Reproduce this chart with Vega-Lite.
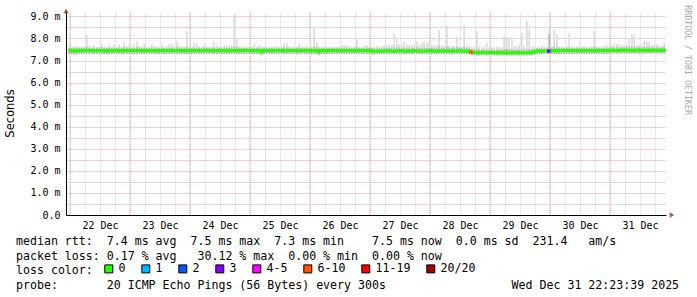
{
"$schema":"https://vega.github.io/schema/vega-lite/v6.json",
"width":600,"height":203,
"autosize":{"type":"none"},
"padding":{"left":66,"top":12,"right":31,"bottom":82},
"background":"white",
"config":{"view":{"stroke":null},"font":"DejaVu Sans Mono"},
"title":{"text":["median rtt:\u00a0\u00a07.4 ms avg\u00a0\u00a07.5 ms max\u00a0\u00a07.3 ms min\u00a0\u00a0\u00a0\u00a07.5 ms now\u00a0\u00a00.0 ms sd\u00a0\u00a0231.4\u00a0\u00a0\u00a0am/s","packet loss: 0.17 % avg\u00a0\u00a0\u00a030.12 % max\u00a0\u00a00.00 % min\u00a0\u00a00.00 % now","loss color:","probe:\u00a0\u00a0\u00a0\u00a0\u00a0\u00a0\u00a020 ICMP Echo Pings (56 Bytes) every 300s\u00a0\u00a0\u00a0\u00a0\u00a0\u00a0\u00a0\u00a0\u00a0\u00a0\u00a0\u00a0\u00a0\u00a0\u00a0\u00a0\u00a0\u00a0Wed Dec 31 22:23:39 2025"],
"orient":"bottom","anchor":"start","frame":"group","dx":-50,"dy":-45,"offset":6,"font":"DejaVu Sans Mono","fontSize":11.6,"fontWeight":"normal","color":"#000000","lineHeight":14.5},
"datasets":{
"s":[
{"t":"2025-12-21 23:30","lo":7.3,"up":7.58,"mx":7.75,"md":7.45},
{"t":"2025-12-22 00:30","lo":7.3,"up":7.58,"mx":7.62,"md":7.45},
{"t":"2025-12-22 01:30","lo":7.27,"up":7.58,"mx":7.66,"md":7.42},
{"t":"2025-12-22 02:30","lo":7.26,"up":7.58,"mx":7.64,"md":7.44},
{"t":"2025-12-22 03:30","lo":7.3,"up":7.58,"mx":7.6,"md":7.46},
{"t":"2025-12-22 04:30","lo":7.3,"up":7.58,"mx":7.62,"md":7.45},
{"t":"2025-12-22 05:30","lo":7.3,"up":7.58,"mx":7.65,"md":7.44},
{"t":"2025-12-22 06:30","lo":7.3,"up":7.62,"mx":8.15,"md":7.45},
{"t":"2025-12-22 07:30","lo":7.3,"up":7.58,"mx":7.64,"md":7.46},
{"t":"2025-12-22 08:30","lo":7.3,"up":7.58,"mx":7.6,"md":7.45},
{"t":"2025-12-22 09:30","lo":7.3,"up":7.58,"mx":7.7,"md":7.44},
{"t":"2025-12-22 10:30","lo":7.3,"up":7.58,"mx":7.62,"md":7.45},
{"t":"2025-12-22 11:30","lo":7.3,"up":7.58,"mx":7.6,"md":7.46},
{"t":"2025-12-22 12:30","lo":7.3,"up":7.6,"mx":7.75,"md":7.45},
{"t":"2025-12-22 13:30","lo":7.3,"up":7.58,"mx":7.62,"md":7.44},
{"t":"2025-12-22 14:30","lo":7.27,"up":7.58,"mx":7.6,"md":7.42},
{"t":"2025-12-22 15:30","lo":7.3,"up":7.58,"mx":7.75,"md":7.45},
{"t":"2025-12-22 16:30","lo":7.3,"up":7.58,"mx":7.62,"md":7.46},
{"t":"2025-12-22 17:30","lo":7.3,"up":7.58,"mx":7.7,"md":7.45},
{"t":"2025-12-22 18:30","lo":7.3,"up":7.58,"mx":7.6,"md":7.44},
{"t":"2025-12-22 19:30","lo":7.3,"up":7.58,"mx":7.75,"md":7.45},
{"t":"2025-12-22 20:30","lo":7.28,"up":7.58,"mx":7.62,"md":7.46},
{"t":"2025-12-22 21:30","lo":7.3,"up":7.6,"mx":7.82,"md":7.44},
{"t":"2025-12-22 22:30","lo":7.3,"up":7.58,"mx":7.62,"md":7.45},
{"t":"2025-12-22 23:30","lo":7.3,"up":7.58,"mx":7.75,"md":7.45},
{"t":"2025-12-23 00:30","lo":7.3,"up":7.58,"mx":7.62,"md":7.45},
{"t":"2025-12-23 01:30","lo":7.3,"up":7.58,"mx":7.75,"md":7.44},
{"t":"2025-12-23 02:30","lo":7.3,"up":7.6,"mx":7.88,"md":7.45},
{"t":"2025-12-23 03:30","lo":7.3,"up":7.58,"mx":7.64,"md":7.46},
{"t":"2025-12-23 04:30","lo":7.3,"up":7.58,"mx":7.62,"md":7.45},
{"t":"2025-12-23 05:30","lo":7.3,"up":7.58,"mx":7.75,"md":7.44},
{"t":"2025-12-23 06:30","lo":7.3,"up":7.58,"mx":7.6,"md":7.45},
{"t":"2025-12-23 07:30","lo":7.3,"up":7.58,"mx":7.62,"md":7.45},
{"t":"2025-12-23 08:30","lo":7.3,"up":7.58,"mx":7.75,"md":7.46},
{"t":"2025-12-23 09:30","lo":7.3,"up":7.58,"mx":7.64,"md":7.44},
{"t":"2025-12-23 10:30","lo":7.3,"up":7.58,"mx":7.62,"md":7.45},
{"t":"2025-12-23 11:30","lo":7.3,"up":7.58,"mx":7.6,"md":7.45},
{"t":"2025-12-23 12:30","lo":7.3,"up":7.58,"mx":7.7,"md":7.44},
{"t":"2025-12-23 13:30","lo":7.3,"up":7.58,"mx":7.62,"md":7.45},
{"t":"2025-12-23 14:30","lo":7.3,"up":7.58,"mx":7.64,"md":7.46},
{"t":"2025-12-23 15:30","lo":7.3,"up":7.58,"mx":7.75,"md":7.45},
{"t":"2025-12-23 16:30","lo":7.3,"up":7.58,"mx":7.75,"md":7.44},
{"t":"2025-12-23 17:30","lo":7.3,"up":7.58,"mx":7.62,"md":7.45},
{"t":"2025-12-23 18:30","lo":7.3,"up":7.6,"mx":7.85,"md":7.45},
{"t":"2025-12-23 19:30","lo":7.3,"up":7.58,"mx":7.64,"md":7.46},
{"t":"2025-12-23 20:30","lo":7.3,"up":7.58,"mx":7.6,"md":7.44},
{"t":"2025-12-23 21:30","lo":7.3,"up":7.58,"mx":7.62,"md":7.45},
{"t":"2025-12-23 22:30","lo":7.3,"up":7.62,"mx":8.34,"md":7.45},
{"t":"2025-12-23 23:30","lo":7.3,"up":7.58,"mx":7.66,"md":7.44},
{"t":"2025-12-24 00:30","lo":7.3,"up":7.58,"mx":7.62,"md":7.45},
{"t":"2025-12-24 01:30","lo":7.3,"up":7.6,"mx":7.8,"md":7.45},
{"t":"2025-12-24 02:30","lo":7.3,"up":7.58,"mx":7.78,"md":7.46},
{"t":"2025-12-24 03:30","lo":7.3,"up":7.58,"mx":7.64,"md":7.45},
{"t":"2025-12-24 04:30","lo":7.3,"up":7.58,"mx":7.6,"md":7.44},
{"t":"2025-12-24 05:30","lo":7.3,"up":7.58,"mx":7.7,"md":7.45},
{"t":"2025-12-24 06:30","lo":7.3,"up":7.58,"mx":7.62,"md":7.45},
{"t":"2025-12-24 07:30","lo":7.3,"up":7.58,"mx":7.6,"md":7.46},
{"t":"2025-12-24 08:30","lo":7.3,"up":7.58,"mx":7.64,"md":7.45},
{"t":"2025-12-24 09:30","lo":7.3,"up":7.6,"mx":7.88,"md":7.44},
{"t":"2025-12-24 10:30","lo":7.3,"up":7.58,"mx":7.7,"md":7.45},
{"t":"2025-12-24 11:30","lo":7.3,"up":7.58,"mx":7.62,"md":7.45},
{"t":"2025-12-24 12:30","lo":7.3,"up":7.58,"mx":7.6,"md":7.46},
{"t":"2025-12-24 13:30","lo":7.3,"up":7.58,"mx":7.68,"md":7.45},
{"t":"2025-12-24 14:30","lo":7.3,"up":7.58,"mx":7.7,"md":7.44},
{"t":"2025-12-24 15:30","lo":7.3,"up":7.58,"mx":7.66,"md":7.45},
{"t":"2025-12-24 16:30","lo":7.3,"up":7.58,"mx":7.68,"md":7.45},
{"t":"2025-12-24 17:30","lo":7.3,"up":7.64,"mx":9.06,"md":7.46},
{"t":"2025-12-24 18:30","lo":7.3,"up":7.6,"mx":7.95,"md":7.45},
{"t":"2025-12-24 19:30","lo":7.3,"up":7.58,"mx":7.64,"md":7.44},
{"t":"2025-12-24 20:30","lo":7.3,"up":7.58,"mx":7.62,"md":7.45},
{"t":"2025-12-24 21:30","lo":7.3,"up":7.58,"mx":7.6,"md":7.45},
{"t":"2025-12-24 22:30","lo":7.3,"up":7.58,"mx":7.62,"md":7.46},
{"t":"2025-12-24 23:30","lo":7.3,"up":7.58,"mx":7.64,"md":7.45},
{"t":"2025-12-25 00:30","lo":7.3,"up":7.58,"mx":7.62,"md":7.45},
{"t":"2025-12-25 01:30","lo":7.3,"up":7.58,"mx":7.75,"md":7.44},
{"t":"2025-12-25 02:30","lo":7.3,"up":7.58,"mx":7.6,"md":7.45},
{"t":"2025-12-25 03:30","lo":7.3,"up":7.58,"mx":7.7,"md":7.45},
{"t":"2025-12-25 04:30","lo":7.26,"up":7.58,"mx":7.62,"md":7.4},
{"t":"2025-12-25 05:30","lo":7.3,"up":7.58,"mx":7.64,"md":7.45},
{"t":"2025-12-25 06:30","lo":7.3,"up":7.58,"mx":7.6,"md":7.46},
{"t":"2025-12-25 07:30","lo":7.3,"up":7.58,"mx":7.62,"md":7.45},
{"t":"2025-12-25 08:30","lo":7.3,"up":7.58,"mx":7.6,"md":7.44},
{"t":"2025-12-25 09:30","lo":7.3,"up":7.58,"mx":7.64,"md":7.45},
{"t":"2025-12-25 10:30","lo":7.3,"up":7.58,"mx":7.62,"md":7.45},
{"t":"2025-12-25 11:30","lo":7.3,"up":7.58,"mx":7.6,"md":7.46},
{"t":"2025-12-25 12:30","lo":7.3,"up":7.58,"mx":7.64,"md":7.45},
{"t":"2025-12-25 13:30","lo":7.3,"up":7.6,"mx":7.8,"md":7.44},
{"t":"2025-12-25 14:30","lo":7.3,"up":7.6,"mx":7.8,"md":7.45},
{"t":"2025-12-25 15:30","lo":7.3,"up":7.58,"mx":7.64,"md":7.45},
{"t":"2025-12-25 16:30","lo":7.3,"up":7.58,"mx":7.62,"md":7.46},
{"t":"2025-12-25 17:30","lo":7.3,"up":7.58,"mx":7.6,"md":7.45},
{"t":"2025-12-25 18:30","lo":7.3,"up":7.58,"mx":7.64,"md":7.44},
{"t":"2025-12-25 19:30","lo":7.3,"up":7.58,"mx":7.75,"md":7.45},
{"t":"2025-12-25 20:30","lo":7.3,"up":7.58,"mx":7.62,"md":7.45},
{"t":"2025-12-25 21:30","lo":7.3,"up":7.58,"mx":7.6,"md":7.46},
{"t":"2025-12-25 22:30","lo":7.3,"up":7.58,"mx":7.64,"md":7.45},
{"t":"2025-12-25 23:30","lo":7.3,"up":7.58,"mx":7.62,"md":7.44},
{"t":"2025-12-26 00:30","lo":7.3,"up":7.58,"mx":7.64,"md":7.45},
{"t":"2025-12-26 01:30","lo":7.3,"up":7.62,"mx":8.52,"md":7.45},
{"t":"2025-12-26 02:30","lo":7.3,"up":7.6,"mx":7.85,"md":7.44},
{"t":"2025-12-26 03:30","lo":7.26,"up":7.58,"mx":7.62,"md":7.4},
{"t":"2025-12-26 04:30","lo":7.3,"up":7.58,"mx":7.6,"md":7.45},
{"t":"2025-12-26 05:30","lo":7.3,"up":7.58,"mx":7.64,"md":7.46},
{"t":"2025-12-26 06:30","lo":7.3,"up":7.58,"mx":7.62,"md":7.45},
{"t":"2025-12-26 07:30","lo":7.3,"up":7.58,"mx":7.6,"md":7.44},
{"t":"2025-12-26 08:30","lo":7.3,"up":7.58,"mx":7.62,"md":7.45},
{"t":"2025-12-26 09:30","lo":7.3,"up":7.58,"mx":7.64,"md":7.45},
{"t":"2025-12-26 10:30","lo":7.3,"up":7.58,"mx":7.6,"md":7.46},
{"t":"2025-12-26 11:30","lo":7.3,"up":7.58,"mx":7.62,"md":7.45},
{"t":"2025-12-26 12:30","lo":7.3,"up":7.58,"mx":7.7,"md":7.44},
{"t":"2025-12-26 13:30","lo":7.3,"up":7.58,"mx":7.68,"md":7.45},
{"t":"2025-12-26 14:30","lo":7.3,"up":7.58,"mx":7.7,"md":7.45},
{"t":"2025-12-26 15:30","lo":7.3,"up":7.58,"mx":7.62,"md":7.46},
{"t":"2025-12-26 16:30","lo":7.3,"up":7.58,"mx":7.6,"md":7.45},
{"t":"2025-12-26 17:30","lo":7.3,"up":7.58,"mx":7.64,"md":7.44},
{"t":"2025-12-26 18:30","lo":7.3,"up":7.6,"mx":7.95,"md":7.45},
{"t":"2025-12-26 19:30","lo":7.3,"up":7.58,"mx":7.62,"md":7.45},
{"t":"2025-12-26 20:30","lo":7.3,"up":7.58,"mx":7.6,"md":7.46},
{"t":"2025-12-26 21:30","lo":7.3,"up":7.58,"mx":7.64,"md":7.45},
{"t":"2025-12-26 22:30","lo":7.3,"up":7.58,"mx":7.7,"md":7.44},
{"t":"2025-12-26 23:30","lo":7.3,"up":7.58,"mx":7.62,"md":7.45},
{"t":"2025-12-27 00:30","lo":7.3,"up":7.56,"mx":7.6,"md":7.43},
{"t":"2025-12-27 01:30","lo":7.28,"up":7.56,"mx":7.62,"md":7.42},
{"t":"2025-12-27 02:30","lo":7.3,"up":7.56,"mx":7.64,"md":7.43},
{"t":"2025-12-27 03:30","lo":7.3,"up":7.56,"mx":7.62,"md":7.43},
{"t":"2025-12-27 04:30","lo":7.3,"up":7.56,"mx":7.66,"md":7.42},
{"t":"2025-12-27 05:30","lo":7.3,"up":7.56,"mx":7.68,"md":7.43},
{"t":"2025-12-27 06:30","lo":7.3,"up":7.58,"mx":7.7,"md":7.43},
{"t":"2025-12-27 07:30","lo":7.3,"up":7.58,"mx":7.7,"md":7.44},
{"t":"2025-12-27 08:30","lo":7.3,"up":7.58,"mx":7.72,"md":7.43},
{"t":"2025-12-27 09:30","lo":7.3,"up":7.6,"mx":8.2,"md":7.42},
{"t":"2025-12-27 10:30","lo":7.3,"up":7.6,"mx":8.05,"md":7.43},
{"t":"2025-12-27 11:30","lo":7.3,"up":7.58,"mx":7.75,"md":7.43},
{"t":"2025-12-27 12:30","lo":7.3,"up":7.58,"mx":7.72,"md":7.44},
{"t":"2025-12-27 13:30","lo":7.3,"up":7.58,"mx":7.85,"md":7.43},
{"t":"2025-12-27 14:30","lo":7.3,"up":7.58,"mx":7.74,"md":7.42},
{"t":"2025-12-27 15:30","lo":7.3,"up":7.58,"mx":7.72,"md":7.43},
{"t":"2025-12-27 16:30","lo":7.3,"up":7.58,"mx":7.7,"md":7.43},
{"t":"2025-12-27 17:30","lo":7.3,"up":7.58,"mx":7.72,"md":7.44},
{"t":"2025-12-27 18:30","lo":7.3,"up":7.6,"mx":7.88,"md":7.43},
{"t":"2025-12-27 19:30","lo":7.3,"up":7.58,"mx":7.7,"md":7.43},
{"t":"2025-12-27 20:30","lo":7.3,"up":7.58,"mx":7.8,"md":7.42},
{"t":"2025-12-27 21:30","lo":7.3,"up":7.58,"mx":7.85,"md":7.43},
{"t":"2025-12-27 22:30","lo":7.3,"up":7.58,"mx":7.82,"md":7.43},
{"t":"2025-12-27 23:30","lo":7.3,"up":7.58,"mx":7.85,"md":7.44},
{"t":"2025-12-28 00:30","lo":7.3,"up":7.58,"mx":7.7,"md":7.43},
{"t":"2025-12-28 01:30","lo":7.3,"up":7.58,"mx":7.68,"md":7.43},
{"t":"2025-12-28 02:30","lo":7.3,"up":7.58,"mx":7.72,"md":7.42},
{"t":"2025-12-28 03:30","lo":7.3,"up":7.62,"mx":8.38,"md":7.43},
{"t":"2025-12-28 04:30","lo":7.3,"up":7.58,"mx":7.7,"md":7.43},
{"t":"2025-12-28 05:30","lo":7.3,"up":7.58,"mx":7.66,"md":7.44},
{"t":"2025-12-28 06:30","lo":7.3,"up":7.62,"mx":8.56,"md":7.43},
{"t":"2025-12-28 07:30","lo":7.3,"up":7.58,"mx":7.68,"md":7.43},
{"t":"2025-12-28 08:30","lo":7.3,"up":7.58,"mx":7.64,"md":7.42},
{"t":"2025-12-28 09:30","lo":7.3,"up":7.58,"mx":7.66,"md":7.43},
{"t":"2025-12-28 10:30","lo":7.3,"up":7.6,"mx":8.1,"md":7.43},
{"t":"2025-12-28 11:30","lo":7.3,"up":7.58,"mx":7.64,"md":7.44},
{"t":"2025-12-28 12:30","lo":7.3,"up":7.58,"mx":7.62,"md":7.43},
{"t":"2025-12-28 13:30","lo":7.3,"up":7.62,"mx":8.6,"md":7.43},
{"t":"2025-12-28 14:30","lo":7.3,"up":7.58,"mx":7.7,"md":7.42},
{"t":"2025-12-28 15:30","lo":7.3,"up":7.58,"mx":7.62,"md":7.43},
{"t":"2025-12-28 16:30","lo":7.24,"up":7.5,"mx":7.6,"md":7.37},
{"t":"2025-12-28 17:30","lo":7.24,"up":7.5,"mx":7.62,"md":7.36},
{"t":"2025-12-28 18:30","lo":7.24,"up":7.52,"mx":8.33,"md":7.36},
{"t":"2025-12-28 19:30","lo":7.24,"up":7.5,"mx":7.64,"md":7.35},
{"t":"2025-12-28 20:30","lo":7.24,"up":7.5,"mx":7.6,"md":7.36},
{"t":"2025-12-28 21:30","lo":7.24,"up":7.5,"mx":7.62,"md":7.37},
{"t":"2025-12-28 22:30","lo":7.24,"up":7.5,"mx":7.8,"md":7.36},
{"t":"2025-12-28 23:30","lo":7.24,"up":7.5,"mx":7.62,"md":7.35},
{"t":"2025-12-29 00:30","lo":7.24,"up":7.5,"mx":7.62,"md":7.36},
{"t":"2025-12-29 01:30","lo":7.24,"up":7.5,"mx":7.6,"md":7.35},
{"t":"2025-12-29 02:30","lo":7.24,"up":7.5,"mx":7.64,"md":7.35},
{"t":"2025-12-29 03:30","lo":7.24,"up":7.5,"mx":7.62,"md":7.36},
{"t":"2025-12-29 04:30","lo":7.24,"up":7.5,"mx":7.6,"md":7.35},
{"t":"2025-12-29 05:30","lo":7.24,"up":7.52,"mx":8.1,"md":7.34},
{"t":"2025-12-29 06:30","lo":7.24,"up":7.52,"mx":8.05,"md":7.35},
{"t":"2025-12-29 07:30","lo":7.24,"up":7.52,"mx":8.07,"md":7.35},
{"t":"2025-12-29 08:30","lo":7.24,"up":7.52,"mx":8.0,"md":7.34},
{"t":"2025-12-29 09:30","lo":7.24,"up":7.5,"mx":7.64,"md":7.35},
{"t":"2025-12-29 10:30","lo":7.24,"up":7.5,"mx":7.62,"md":7.36},
{"t":"2025-12-29 11:30","lo":7.24,"up":7.5,"mx":7.7,"md":7.35},
{"t":"2025-12-29 12:30","lo":7.24,"up":7.52,"mx":8.25,"md":7.35},
{"t":"2025-12-29 13:30","lo":7.24,"up":7.5,"mx":7.66,"md":7.34},
{"t":"2025-12-29 14:30","lo":7.24,"up":7.54,"mx":8.79,"md":7.35},
{"t":"2025-12-29 15:30","lo":7.24,"up":7.52,"mx":8.4,"md":7.35},
{"t":"2025-12-29 16:30","lo":7.24,"up":7.5,"mx":7.64,"md":7.36},
{"t":"2025-12-29 17:30","lo":7.26,"up":7.52,"mx":7.62,"md":7.38},
{"t":"2025-12-29 18:30","lo":7.3,"up":7.56,"mx":7.6,"md":7.43},
{"t":"2025-12-29 19:30","lo":7.3,"up":7.56,"mx":7.62,"md":7.43},
{"t":"2025-12-29 20:30","lo":7.3,"up":7.56,"mx":7.7,"md":7.42},
{"t":"2025-12-29 21:30","lo":7.3,"up":7.56,"mx":7.62,"md":7.43},
{"t":"2025-12-29 22:30","lo":7.3,"up":7.56,"mx":7.64,"md":7.43},
{"t":"2025-12-29 23:30","lo":7.3,"up":8.2,"mx":8.43,"md":7.43},
{"t":"2025-12-30 00:30","lo":7.3,"up":7.58,"mx":7.66,"md":7.45},
{"t":"2025-12-30 01:30","lo":7.3,"up":7.62,"mx":8.38,"md":7.45},
{"t":"2025-12-30 02:30","lo":7.3,"up":7.6,"mx":8.2,"md":7.44},
{"t":"2025-12-30 03:30","lo":7.3,"up":7.58,"mx":7.64,"md":7.45},
{"t":"2025-12-30 04:30","lo":7.3,"up":7.58,"mx":7.62,"md":7.45},
{"t":"2025-12-30 05:30","lo":7.3,"up":7.58,"mx":7.6,"md":7.46},
{"t":"2025-12-30 06:30","lo":7.3,"up":7.58,"mx":7.64,"md":7.45},
{"t":"2025-12-30 07:30","lo":7.3,"up":7.6,"mx":8.2,"md":7.44},
{"t":"2025-12-30 08:30","lo":7.3,"up":7.58,"mx":7.62,"md":7.45},
{"t":"2025-12-30 09:30","lo":7.3,"up":7.58,"mx":7.6,"md":7.45},
{"t":"2025-12-30 10:30","lo":7.3,"up":7.58,"mx":7.62,"md":7.46},
{"t":"2025-12-30 11:30","lo":7.3,"up":7.58,"mx":7.64,"md":7.45},
{"t":"2025-12-30 12:30","lo":7.3,"up":7.58,"mx":7.62,"md":7.44},
{"t":"2025-12-30 13:30","lo":7.3,"up":7.58,"mx":7.65,"md":7.45},
{"t":"2025-12-30 14:30","lo":7.3,"up":7.58,"mx":7.6,"md":7.45},
{"t":"2025-12-30 15:30","lo":7.3,"up":7.58,"mx":7.62,"md":7.46},
{"t":"2025-12-30 16:30","lo":7.3,"up":7.58,"mx":7.64,"md":7.45},
{"t":"2025-12-30 17:30","lo":7.3,"up":7.62,"mx":8.34,"md":7.44},
{"t":"2025-12-30 18:30","lo":7.3,"up":7.58,"mx":7.62,"md":7.45},
{"t":"2025-12-30 19:30","lo":7.3,"up":7.58,"mx":7.6,"md":7.45},
{"t":"2025-12-30 20:30","lo":7.3,"up":7.58,"mx":7.62,"md":7.46},
{"t":"2025-12-30 21:30","lo":7.3,"up":7.58,"mx":7.64,"md":7.45},
{"t":"2025-12-30 22:30","lo":7.3,"up":7.58,"mx":7.7,"md":7.44},
{"t":"2025-12-30 23:30","lo":7.3,"up":7.58,"mx":7.62,"md":7.45},
{"t":"2025-12-31 00:30","lo":7.32,"up":7.6,"mx":7.66,"md":7.47},
{"t":"2025-12-31 01:30","lo":7.32,"up":7.6,"mx":7.75,"md":7.47},
{"t":"2025-12-31 02:30","lo":7.32,"up":7.6,"mx":7.75,"md":7.46},
{"t":"2025-12-31 03:30","lo":7.32,"up":7.6,"mx":7.7,"md":7.47},
{"t":"2025-12-31 04:30","lo":7.32,"up":7.6,"mx":7.7,"md":7.47},
{"t":"2025-12-31 05:30","lo":7.32,"up":7.6,"mx":7.68,"md":7.48},
{"t":"2025-12-31 06:30","lo":7.32,"up":7.6,"mx":7.7,"md":7.47},
{"t":"2025-12-31 07:30","lo":7.32,"up":7.62,"mx":8.02,"md":7.47},
{"t":"2025-12-31 08:30","lo":7.32,"up":7.62,"mx":8.2,"md":7.46},
{"t":"2025-12-31 09:30","lo":7.32,"up":7.62,"mx":8.1,"md":7.47},
{"t":"2025-12-31 10:30","lo":7.32,"up":7.6,"mx":7.72,"md":7.47},
{"t":"2025-12-31 11:30","lo":7.32,"up":7.6,"mx":7.7,"md":7.48},
{"t":"2025-12-31 12:30","lo":7.32,"up":7.6,"mx":7.68,"md":7.47},
{"t":"2025-12-31 13:30","lo":7.32,"up":7.62,"mx":7.88,"md":7.47},
{"t":"2025-12-31 14:30","lo":7.32,"up":7.62,"mx":7.88,"md":7.46},
{"t":"2025-12-31 15:30","lo":7.32,"up":7.62,"mx":7.85,"md":7.47},
{"t":"2025-12-31 16:30","lo":7.32,"up":7.6,"mx":7.7,"md":7.47},
{"t":"2025-12-31 17:30","lo":7.32,"up":7.6,"mx":7.75,"md":7.48},
{"t":"2025-12-31 18:30","lo":7.32,"up":7.6,"mx":7.75,"md":7.47},
{"t":"2025-12-31 19:30","lo":7.32,"up":7.6,"mx":7.7,"md":7.47},
{"t":"2025-12-31 20:30","lo":7.32,"up":7.6,"mx":7.68,"md":7.46},
{"t":"2025-12-31 21:30","lo":7.32,"up":7.62,"mx":7.83,"md":7.47},
{"t":"2025-12-31 22:30","lo":7.32,"up":7.62,"mx":7.83,"md":7.47}
],
"loss":[
{"t":"2025-12-28 16:30","md":7.38,"l":"6-10"},
{"t":"2025-12-29 23:30","md":7.43,"l":"3"}
],
"days":[
{"d":"2025-12-22 00:00"},{"d":"2025-12-23 00:00"},{"d":"2025-12-24 00:00"},{"d":"2025-12-25 00:00"},{"d":"2025-12-26 00:00"},
{"d":"2025-12-27 00:00"},{"d":"2025-12-28 00:00"},{"d":"2025-12-29 00:00"},{"d":"2025-12-30 00:00"},{"d":"2025-12-31 00:00"}
],
"note":[{"a":"RRDTOOL / TOBI OETIKER"}]
},
"layer":[
{"data":{"name":"s"},
 "mark":{"type":"bar","color":"#dddddd","clip":true},
 "encoding":{
  "x":{"field":"t","type":"temporal","timeUnit":"yearmonthdatehours",
   "scale":{"domain":[{"year":2025,"month":12,"date":21,"hours":22,"minutes":23,"seconds":39},{"year":2025,"month":12,"date":31,"hours":22,"minutes":23,"seconds":39}]},
   "axis":{"title":null,"tickCount":40,
    "labelExpr":"hours(datum.value)==12 ? timeFormat(datum.value,'%d %b') : ''",
    "labelOverlap":false,"labelFlush":false,"labelBound":false,"ticks":false,
    "grid":true,"gridColor":"#cfcfcf",
    "gridDash":[1,1],"gridWidth":1,"domainColor":"#000000","domainWidth":1,
    "labelFont":"DejaVu Sans Mono","labelFontSize":10,"labelColor":"#000000","labelPadding":5}},
  "y":{"field":"lo","type":"quantitative","scale":{"domain":[0,9.2],"nice":false,"zero":true},
   "axis":{"title":"Seconds","tickCount":18,
    "labelExpr":"datum.value % 1 == 0 ? (datum.value == 0 ? '0.0' : format(datum.value,'.1f') + ' m') : ''",
    "labelOverlap":false,
    "grid":true,"gridColor":"#eaa4a4",
    "gridDash":[1,1],"gridWidth":1,"ticks":false,"domainColor":"#000000","domainWidth":1,
    "labelFont":"DejaVu Sans Mono","labelFontSize":10,"labelColor":"#000000","labelPadding":6,
    "titleFont":"DejaVu Sans","titleFontSize":11.5,"titleFontWeight":"normal","titleColor":"#000000",
    "titleAngle":270,"titleX":-56,"titleY":101,"titleAlign":"center","titleBaseline":"middle"}},
  "y2":{"field":"mx"}}},
{"data":{"name":"days"},
 "mark":{"type":"rule","color":"#eaa4a4","strokeDash":[1,1],"strokeWidth":1},
 "encoding":{"x":{"field":"d","type":"temporal"}}},
{"data":{"name":"s"},
 "mark":{"type":"bar","color":"#dddddd","clip":true},
 "encoding":{
  "x":{"field":"t","type":"temporal","timeUnit":"yearmonthdatehours"},
  "y":{"field":"lo","type":"quantitative"},
  "y2":{"field":"mx"}}},
{"data":{"name":"s"},
 "mark":{"type":"bar","color":"#b4b4b4","clip":true},
 "encoding":{
  "x":{"field":"t","type":"temporal","timeUnit":"yearmonthdatehours"},
  "y":{"field":"lo","type":"quantitative"},
  "y2":{"field":"up"}}},
{"data":{"name":"s"},
 "mark":{"type":"line","color":"#26ff00","strokeWidth":3,"interpolate":"step","clip":true},
 "encoding":{
  "x":{"field":"t","type":"temporal"},
  "y":{"field":"md","type":"quantitative"}}},
{"data":{"name":"loss"},
 "mark":{"type":"square","size":12,"opacity":1,"clip":true},
 "encoding":{
  "x":{"field":"t","type":"temporal"},
  "y":{"field":"md","type":"quantitative"},
  "color":{"field":"l","type":"nominal",
   "scale":{"domain":["0","1","2","3","4-5","6-10","11-19","20/20"],"range":["#26ff00","#00b8ff","#0059ff","#7e00ff","#ff00ff","#ff5500","#ff0000","#a10000"]},
   "legend":{"title":null,"orient":"none","legendX":37,"legendY":251,"direction":"horizontal","columns":8,
    "symbolType":"square","symbolSize":64,"symbolStrokeColor":"#000000","symbolStrokeWidth":1,
    "labelFont":"DejaVu Sans Mono","labelFontSize":11.6,"labelColor":"#000000","labelOffset":4,"columnPadding":13,"padding":0,"offset":0}}}},
{"data":{"name":"note"},
 "mark":{"type":"text","angle":90,"align":"left","baseline":"middle","font":"DejaVu Sans Mono","fontSize":8.3,"color":"#a8a8a8","clip":false},
 "encoding":{
  "text":{"field":"a"},
  "x":{"datum":{"year":2026,"month":1,"date":1,"hours":6,"minutes":47},"type":"temporal"},
  "y":{"datum":9.51,"type":"quantitative"}}},
{"data":{"name":"note"},
 "mark":{"type":"point","shape":"triangle-up","filled":true,"color":"#8b1010","size":28,"clip":false},
 "encoding":{
  "x":{"datum":{"year":2025,"month":12,"date":21,"hours":22,"minutes":23,"seconds":39},"type":"temporal"},
  "y":{"datum":9.25,"type":"quantitative"}}},
{"data":{"name":"note"},
 "mark":{"type":"point","shape":"triangle-right","filled":true,"color":"#8b1010","size":28,"clip":false},
 "encoding":{
  "x":{"datum":{"year":2026,"month":1,"date":1,"hours":0,"minutes":47},"type":"temporal"},
  "y":{"datum":0,"type":"quantitative"}}}
]
}
